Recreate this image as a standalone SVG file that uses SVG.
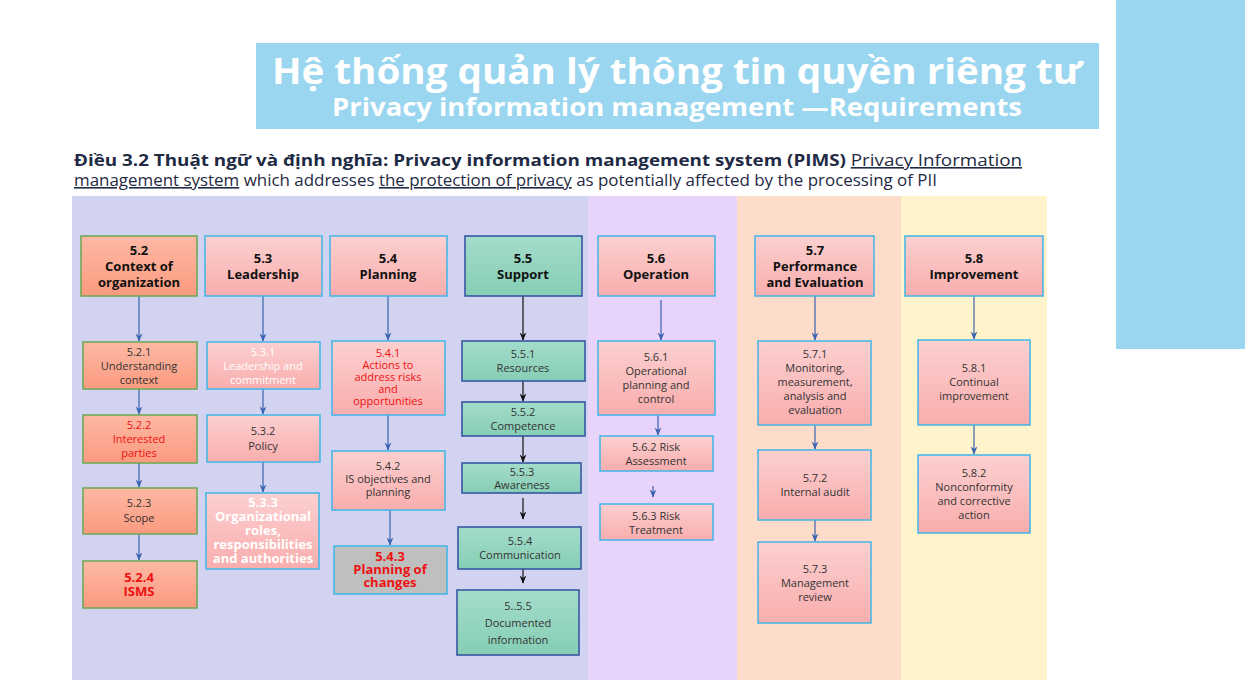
<svg xmlns="http://www.w3.org/2000/svg" width="1245" height="699" viewBox="0 0 1245 699">
<defs>
<linearGradient id="gs" x1="0" y1="0" x2="0" y2="1"><stop offset="0" stop-color="#fdb9a4"/><stop offset="1" stop-color="#fb9a80"/></linearGradient>
<linearGradient id="gp" x1="0" y1="0" x2="0" y2="1"><stop offset="0" stop-color="#fcd0d0"/><stop offset="1" stop-color="#f9adad"/></linearGradient>
<linearGradient id="gt" x1="0" y1="0" x2="0" y2="1"><stop offset="0" stop-color="#a4dccb"/><stop offset="1" stop-color="#86ceb5"/></linearGradient>
<marker id="ab" viewBox="0 0 10 10" refX="9" refY="5" markerWidth="7" markerHeight="7" orient="auto"><path d="M0,1 L10,5 L0,9 L3,5 z" fill="#3a63b0"/></marker>
<marker id="ak" viewBox="0 0 10 10" refX="9" refY="5" markerWidth="7" markerHeight="7" orient="auto"><path d="M0,1 L10,5 L0,9 L3,5 z" fill="#111"/></marker>
</defs>
<style>
text{font-family:"Open Sans","Liberation Sans",sans-serif;text-anchor:middle}
.s rect{fill:url(#gs);stroke:#6aa84f;stroke-width:1.5}
.p rect{fill:url(#gp);stroke:#3fb6e8;stroke-width:1.5}
.t rect{fill:url(#gt);stroke:#2f4f9f;stroke-width:1.5}
.h{font-weight:bold;font-size:13px;fill:#111}
.n{font-size:11px;fill:#333}
.r{fill:#ee1111}
.w{fill:#fff}
.cb line{stroke:#3a63b0;stroke-width:1.2;marker-end:url(#ab)}
.ck line{stroke:#111;stroke-width:1.2;marker-end:url(#ak)}
</style>
<rect width="1245" height="699" fill="#fff"/>
<rect x="1116" y="0" width="129" height="349" fill="#9ad6ef"/>
<rect x="256" y="43" width="843" height="86" fill="#9ad6ef"/>
<text x="677" y="84" font-size="35" font-weight="bold" fill="#fff" textLength="810" lengthAdjust="spacingAndGlyphs">Hệ thống quản lý thông tin quyền riêng tư</text>
<text x="677" y="116" font-size="25" font-weight="bold" fill="#fff" textLength="690" lengthAdjust="spacingAndGlyphs">Privacy information management —Requirements</text>
<text x="74" y="166" font-size="16" fill="#1f2a44" style="text-anchor:start" textLength="948" lengthAdjust="spacingAndGlyphs"><tspan font-weight="bold">Điều 3.2 Thuật ngữ và định nghĩa: Privacy information management system (PIMS)</tspan> <tspan text-decoration="underline">Privacy Information</tspan></text>
<text x="74" y="186" font-size="16" fill="#1f2a44" style="text-anchor:start" textLength="863" lengthAdjust="spacingAndGlyphs"><tspan text-decoration="underline">management system</tspan> which addresses <tspan text-decoration="underline">the protection of privacy</tspan> as potentially affected by the processing of PII</text>
<rect x="72" y="196" width="516" height="484" fill="#d1d3f0"/>
<rect x="588" y="196" width="149" height="484" fill="#e8d3fb"/>
<rect x="737" y="196" width="164" height="484" fill="#fedcca"/>
<rect x="901" y="196" width="146" height="484" fill="#fff3cc"/>

<g id="connectors">
<g class="cb">
<line x1="139" y1="296" x2="139" y2="341"/><line x1="139" y1="389" x2="139" y2="414"/><line x1="139" y1="463" x2="139" y2="487"/><line x1="139" y1="534" x2="139" y2="560"/>
<line x1="263" y1="296" x2="263" y2="341"/><line x1="263" y1="389" x2="263" y2="414"/><line x1="263" y1="462" x2="263" y2="492"/>
<line x1="388" y1="296" x2="388" y2="340"/><line x1="388" y1="415" x2="388" y2="450"/><line x1="390" y1="510" x2="390" y2="545"/>
<line x1="661" y1="300" x2="661" y2="340"/><line x1="658" y1="415" x2="658" y2="435"/><line x1="653" y1="486" x2="653" y2="497"/>
<line x1="815" y1="296" x2="815" y2="340"/><line x1="815" y1="425" x2="815" y2="449"/><line x1="815" y1="520" x2="815" y2="541"/>
<line x1="974" y1="296" x2="974" y2="339"/><line x1="974" y1="425" x2="974" y2="454"/>
</g>
<g class="ck">
<line x1="523" y1="296" x2="523" y2="340"/><line x1="523" y1="381" x2="523" y2="401"/><line x1="523" y1="436" x2="523" y2="462"/><line x1="523" y1="498" x2="523" y2="519"/><line x1="523" y1="569" x2="523" y2="583"/>
</g>
</g>

<g id="n52" class="s"><rect x="81" y="236" width="116" height="60"/><text class="h" x="139" y="255">5.2</text><text class="h" x="139" y="271">Context of</text><text class="h" x="139" y="287">organization</text></g>
<g id="n521" class="s"><rect x="83" y="342" width="114" height="47"/><text class="n" x="139" y="356">5.2.1</text><text class="n" x="139" y="370">Understanding</text><text class="n" x="139" y="384">context</text></g>
<g id="n522" class="s"><rect x="83" y="415" width="114" height="48"/><text class="n r" x="139" y="429">5.2.2</text><text class="n r" x="139" y="443">Interested</text><text class="n r" x="139" y="457">parties</text></g>
<g id="n523" class="s"><rect x="83" y="488" width="114" height="46"/><text class="n" x="139" y="507">5.2.3</text><text class="n" x="139" y="522">Scope</text></g>
<g id="n524" class="s"><rect x="83" y="561" width="114" height="47"/><text class="h r" x="139" y="582" font-size="12">5.2.4</text><text class="h r" x="139" y="596" font-size="12">ISMS</text></g>

<g id="n53" class="p"><rect x="205" y="236" width="117" height="60"/><text class="h" x="263" y="263">5.3</text><text class="h" x="263" y="279">Leadership</text></g>
<g id="n531" class="p"><rect x="207" y="342" width="113" height="47"/><text class="n w" x="263" y="356">5.3.1</text><text class="n w" x="263" y="370">Leadership and</text><text class="n w" x="263" y="384">commitment</text></g>
<g id="n532" class="p"><rect x="207" y="415" width="113" height="47"/><text class="n" x="263" y="435">5.3.2</text><text class="n" x="263" y="450">Policy</text></g>
<g id="n533" class="p"><rect x="206" y="493" width="113" height="76"/><text class="h w" font-size="11" x="263" y="507">5.3.3</text><text class="h w" font-size="11" x="263" y="521">Organizational</text><text class="h w" font-size="11" x="263" y="535">roles,</text><text class="h w" font-size="11" x="263" y="549">responsibilities</text><text class="h w" font-size="11" x="263" y="563">and authorities</text></g>

<g id="n54" class="p"><rect x="330" y="236" width="117" height="60"/><text class="h" x="388" y="263">5.4</text><text class="h" x="388" y="279">Planning</text></g>
<g id="n541" class="p"><rect x="332" y="341" width="113" height="74"/><text class="n r" font-size="10.5" x="388" y="357">5.4.1</text><text class="n r" font-size="10.5" x="388" y="369">Actions to</text><text class="n r" font-size="10.5" x="388" y="381">address risks</text><text class="n r" font-size="10.5" x="388" y="393">and</text><text class="n r" font-size="10.5" x="388" y="405">opportunities</text></g>
<g id="n542" class="p"><rect x="332" y="451" width="113" height="59"/><text class="n" x="388" y="470">5.4.2</text><text class="n" x="388" y="483">IS objectives and</text><text class="n" x="388" y="496">planning</text></g>
<g id="n543"><rect x="334" y="546" width="113" height="48" fill="#bfbfbf" stroke="#3fb6e8" stroke-width="1.5"/><text class="h r" font-size="11.5" x="390" y="561">5.4.3</text><text class="h r" font-size="11.5" x="390" y="574">Planning of</text><text class="h r" font-size="11.5" x="390" y="587">changes</text></g>

<g id="n55" class="t"><rect x="465" y="236" width="117" height="60"/><text class="h" x="523" y="263">5.5</text><text class="h" x="523" y="279">Support</text></g>
<g id="n551" class="t"><rect x="462" y="341" width="123" height="40"/><text class="n" x="523" y="358">5.5.1</text><text class="n" x="523" y="372">Resources</text></g>
<g id="n552" class="t"><rect x="462" y="402" width="123" height="34"/><text class="n" x="523" y="416">5.5.2</text><text class="n" x="523" y="430">Competence</text></g>
<g id="n553" class="t"><rect x="462" y="463" width="119" height="30"/><text class="n" x="522" y="476">5.5.3</text><text class="n" x="522" y="489">Awareness</text></g>
<g id="n554" class="t"><rect x="458" y="527" width="123" height="42"/><text class="n" x="520" y="545">5.5.4</text><text class="n" x="520" y="559">Communication</text></g>
<g id="n555" class="t"><rect x="457" y="590" width="122" height="65"/><text class="n" font-size="13" x="518" y="610">5..5.5</text><text class="n" font-size="13" x="518" y="627">Documented</text><text class="n" font-size="13" x="518" y="644">information</text></g>

<g id="n56" class="p"><rect x="598" y="236" width="117" height="60"/><text class="h" x="656" y="263">5.6</text><text class="h" x="656" y="279">Operation</text></g>
<g id="n561" class="p"><rect x="598" y="341" width="117" height="74"/><text class="n" x="656" y="361">5.6.1</text><text class="n" x="656" y="375">Operational</text><text class="n" x="656" y="389">planning and</text><text class="n" x="656" y="403">control</text></g>
<g id="n562" class="p"><rect x="600" y="436" width="113" height="35"/><text class="n" x="656" y="451">5.6.2 Risk</text><text class="n" x="656" y="465">Assessment</text></g>
<g id="n563" class="p"><rect x="600" y="504" width="113" height="36"/><text class="n" x="656" y="520">5.6.3 Risk</text><text class="n" x="656" y="534">Treatment</text></g>

<g id="n57" class="p"><rect x="755" y="236" width="119" height="60"/><text class="h" x="815" y="255">5.7</text><text class="h" x="815" y="271" font-size="12">Performance</text><text class="h" x="815" y="287" font-size="12">and Evaluation</text></g>
<g id="n571" class="p"><rect x="758" y="341" width="113" height="84"/><text class="n" x="815" y="358">5.7.1</text><text class="n" x="815" y="372">Monitoring,</text><text class="n" x="815" y="386">measurement,</text><text class="n" x="815" y="400">analysis and</text><text class="n" x="815" y="414">evaluation</text></g>
<g id="n572" class="p"><rect x="758" y="450" width="113" height="70"/><text class="n" x="815" y="482">5.7.2</text><text class="n" x="815" y="496">Internal audit</text></g>
<g id="n573" class="p"><rect x="758" y="542" width="113" height="81"/><text class="n" x="815" y="573">5.7.3</text><text class="n" x="815" y="587">Management</text><text class="n" x="815" y="601">review</text></g>

<g id="n58" class="p"><rect x="905" y="236" width="138" height="60"/><text class="h" x="974" y="263">5.8</text><text class="h" x="974" y="279">Improvement</text></g>
<g id="n581" class="p"><rect x="918" y="340" width="112" height="85"/><text class="n" x="974" y="372">5.8.1</text><text class="n" x="974" y="386">Continual</text><text class="n" x="974" y="400">improvement</text></g>
<g id="n582" class="p"><rect x="918" y="455" width="112" height="78"/><text class="n" x="974" y="477">5.8.2</text><text class="n" x="974" y="491">Nonconformity</text><text class="n" x="974" y="505">and corrective</text><text class="n" x="974" y="519">action</text></g>
</svg>
